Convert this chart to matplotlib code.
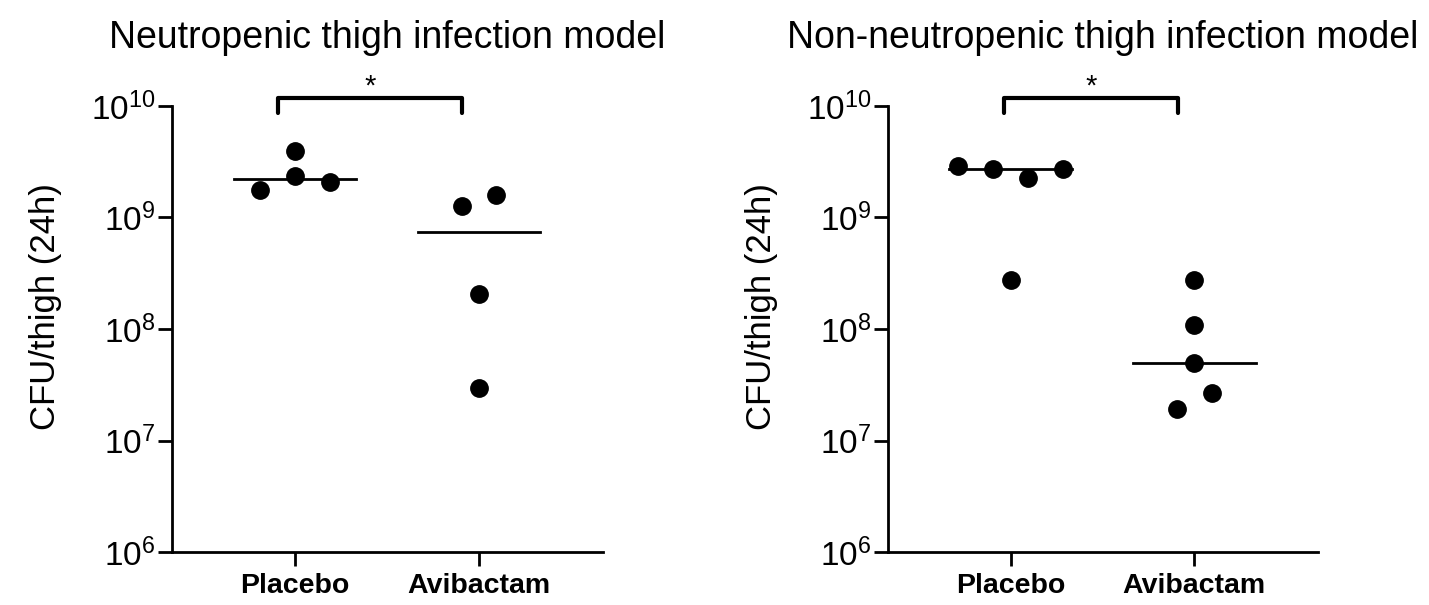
import numpy as np
import matplotlib
matplotlib.use("Agg")
import matplotlib.pyplot as plt

plt.rcParams["font.family"] = ["Liberation Sans", "DejaVu Sans"]
plt.rcParams["mathtext.fontset"] = "custom"
plt.rcParams["mathtext.rm"] = "Liberation Sans"
plt.rcParams["mathtext.default"] = "regular"

# data (CFU/thigh at 24h)
categories = ["Placebo", "Avibactam"]
neut_placebo = [3.95e9, 1.77e9, 2.36e9, 2.07e9]
neut_avibactam = [1.28e9, 1.58e9, 2.06e8, 2.96e7]
nonneut_placebo = [2.92e9, 2.71e9, 2.25e9, 2.74e9, 2.75e8]
nonneut_avibactam = [2.75e8, 1.09e8, 4.99e7, 1.91e7, 2.69e7]
titles = ["Neutropenic thigh infection model",
          "Non-neutropenic thigh infection model"]
ylabel = "CFU/thigh (24h)"
sig_label = "*"

# style
LW = 2.0
MS = 12.5
STEP = 0.19          # horizontal spacing between dots in a row
ROW_TOL = 0.16       # decades: points closer than this share a row
HALF_MED = 0.334


def swarm_offsets(vals):
    logs = np.log10(vals)
    order = np.argsort(-logs)
    groups, cur = [], [order[0]]
    for i in order[1:]:
        if logs[cur[0]] - logs[i] < ROW_TOL:
            cur.append(i)
        else:
            groups.append(cur)
            cur = [i]
    groups.append(cur)
    off = np.zeros(len(vals))
    for g in groups:
        g = sorted(g)
        n = len(g)
        for k, i in enumerate(g):
            off[i] = (k - (n - 1) / 2) * STEP
    return off


def draw_panel(ax, groups, title, bracket_x):
    for xi, vals in enumerate(groups):
        vals = np.asarray(vals)
        ax.plot(xi + swarm_offsets(vals), vals, "o", color="black",
                ms=MS, zorder=3, clip_on=False)
        med = np.median(vals)
        ax.plot([xi - HALF_MED, xi + HALF_MED], [med, med],
                color="black", lw=LW, zorder=2)

    ax.set_yscale("log")
    ax.set_ylim(1e6, 1e10)
    ax.set_xlim(-0.668, 1.674)
    ax.set_xticks(range(len(categories)))
    ax.set_xticklabels(categories, fontsize=20.5, fontweight="bold")
    ax.set_yticks([1e6, 1e7, 1e8, 1e9, 1e10])
    ax.minorticks_off()
    ax.tick_params(axis="y", labelsize=24, length=10, width=LW, pad=2)
    ax.tick_params(axis="x", length=10, width=LW, pad=5)
    for s in ["top", "right"]:
        ax.spines[s].set_visible(False)
    for s in ["left", "bottom"]:
        ax.spines[s].set_linewidth(LW)

    ax.set_ylabel(ylabel, fontsize=25)
    ax.yaxis.set_label_coords(-0.255, 0.55)
    ax.set_title(title, fontsize=27, pad=42)

    # significance bracket above the plot
    x0, x1 = bracket_x
    ytop, ybot = 10 ** 10.072, 10 ** 9.937
    ax.plot([x0, x0, x1, x1], [ybot, ytop, ytop, ybot], color="black",
            lw=3, clip_on=False, solid_capstyle="round")
    ax.text((x0 + x1) / 2, 10 ** 10.1, sig_label, ha="center",
            va="baseline", fontsize=21, clip_on=False)


fig = plt.figure(figsize=(14.29, 6.05), dpi=100)
ax1 = fig.add_axes([0.1204, 0.0876, 0.3016, 0.7372])
ax2 = fig.add_axes([0.6214, 0.0876, 0.3009, 0.7372])

draw_panel(ax1, [neut_placebo, neut_avibactam], titles[0], (-0.092, 0.908))
draw_panel(ax2, [nonneut_placebo, nonneut_avibactam], titles[1], (-0.038, 0.913))

fig.savefig("out.png", dpi=100, facecolor="white")
